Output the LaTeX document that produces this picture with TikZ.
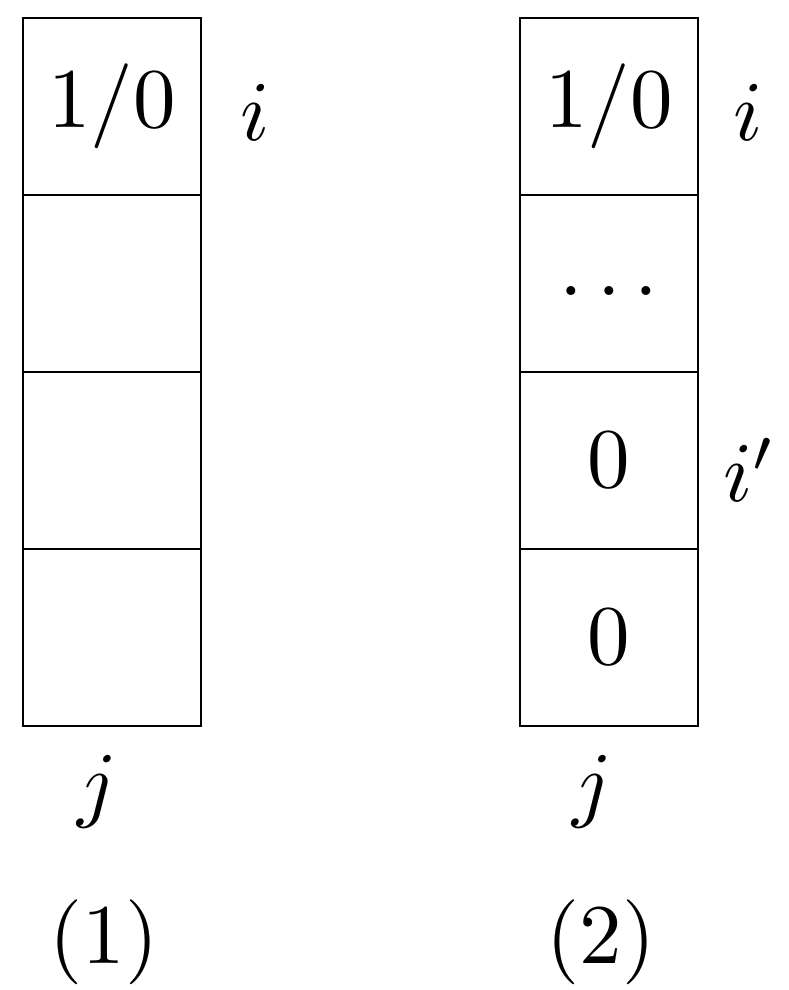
\documentclass[tikz,border=0pt]{standalone}
\usepackage{graphicx}
\newcommand{\bigtxt}[1]{\scalebox{8.5}{#1}}
\begin{document}
\begin{tikzpicture}[x=1pt,y=-1pt,
  cell/.style={draw,line width=2.5pt,minimum width=178pt,minimum height=177pt,inner sep=0pt},
  lab/.style={inner sep=0pt}]
\useasboundingbox (0,0) rectangle (788,990);
\foreach \c/\x in {a/112,b/609}{
  \foreach \r/\y in {1/106.5,2/283.5,3/460.5,4/637.5}{
    \node[cell] (\c\r) at (\x,\y) {};
  }
}
\node[lab] at (a1) {\bigtxt{$1/0$}};
\node[lab] at (b1) {\bigtxt{$1/0$}};
\node[lab] at ([yshift=-8pt]b2) {\bigtxt{$\dots$}};
\node[lab] at (b3) {\bigtxt{$0$}};
\node[lab] at (b4) {\bigtxt{$0$}};
\node[lab] (ia) at (255,112) {\bigtxt{$i$}};
\node[lab] (ib) at (748,112) {\bigtxt{$i$}};
\node[lab] (ip) at (750,470) {\bigtxt{$i'$}};
\node[lab] (ja) at (97,792) {\bigtxt{$j$}};
\node[lab] (jb) at (592,792) {\bigtxt{$j$}};
\node[lab] (n1) at (104,942) {\bigtxt{$(1)$}};
\node[lab] (n2) at (601,942) {\bigtxt{$(2)$}};
\end{tikzpicture}
\end{document}
